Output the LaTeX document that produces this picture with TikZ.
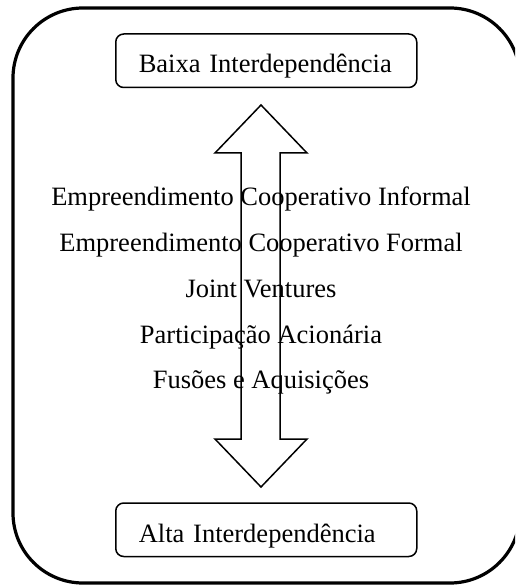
\documentclass[tikz,border=0pt]{standalone}
\usepackage{fontspec}
\setmainfont{Liberation Serif}
\tikzset{
  frame/.style={line width=3.2pt, rounded corners=70pt},
  levelbox/.style={draw, line width=1.5pt, rounded corners=8pt, inner xsep=23pt, inner ysep=0pt,
    text width=255pt, align=left, text height=39pt, text depth=14.5pt, anchor=base west,
    font=\fontsize{26.5}{30}\selectfont},
  item/.style={anchor=base, inner sep=0pt, font=\fontsize{26.5}{30}\selectfont},
  bigarrow/.style={line width=1.5pt, line join=miter}
}
\begin{document}
\begin{tikzpicture}[x=1pt, y=-1pt]
\useasboundingbox (0,0) rectangle (515,585);
\begin{scope}
\clip (0,0) rectangle (515,585);
\draw[frame] (13,8) rectangle (520,583);
\end{scope}
\node[levelbox] (baixa) at (115,73) {Baixa Interdependência};
\node[levelbox] (alta) at (115,542) {Alta Interdependência};
\node[item] (i1) at (261,205) {Empreendimento Cooperativo Informal};
\node[item] (i2) at (261,251) {Empreendimento Cooperativo Formal};
\node[item] (i3) at (261,297) {Joint Ventures};
\node[item] (i4) at (261,343) {Participação Acionária};
\node[item] (i5) at (261,388) {Fusões e Aquisições};
\draw[bigarrow] (261,105) -- (307,153) -- (280,153) -- (280,439) -- (307,439) -- (261,487)
  -- (215,439) -- (241,439) -- (241,153) -- (215,153) -- cycle;
\end{tikzpicture}
\end{document}
